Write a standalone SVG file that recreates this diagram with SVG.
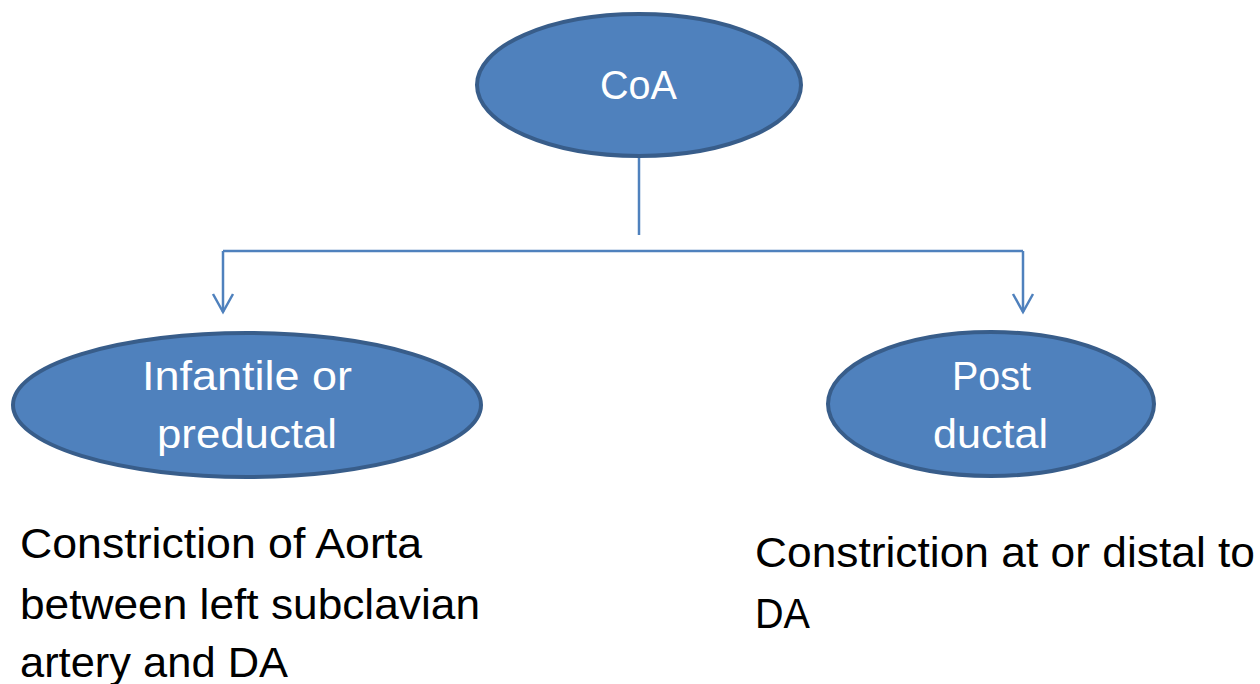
<svg xmlns="http://www.w3.org/2000/svg" width="1260" height="684" viewBox="0 0 1260 684">
<style>
.node ellipse{fill:#4F81BD;stroke:#385D8A;stroke-width:4}
.lbl{font-family:"Liberation Sans",Arial,sans-serif;fill:#FFFFFF;font-size:41px}
.txt{font-family:"Liberation Sans",Arial,sans-serif;fill:#000000;font-size:42px}
.conn path{fill:none;stroke:#4F81BD;stroke-width:2.5}
</style>
<defs>
<marker id="arr" markerUnits="userSpaceOnUse" markerWidth="24" markerHeight="26" viewBox="-20 -13 24 26" refX="0" refY="0" orient="auto">
<path d="M-18,-10 L0,0 L-18,10" fill="none" stroke="#4F81BD" stroke-width="2.5"/>
</marker>
</defs>
<rect width="1260" height="684" fill="#FFFFFF"/>
<g id="connectors" class="conn">
<path d="M639,156 V235"/>
<path d="M223,251 H1023"/>
<path d="M223,251 V312" marker-end="url(#arr)"/>
<path d="M1023,251 V312" marker-end="url(#arr)"/>
</g>
<g id="node-coa" class="node">
<ellipse cx="639" cy="85" rx="162" ry="71"/>
<text class="lbl" x="600" y="99" textLength="77" lengthAdjust="spacingAndGlyphs">CoA</text>
</g>
<g id="node-infantile" class="node">
<ellipse cx="247" cy="405" rx="234" ry="72"/>
<text class="lbl" x="142" y="390" textLength="210" lengthAdjust="spacingAndGlyphs">Infantile or</text>
<text class="lbl" x="157" y="448" textLength="180" lengthAdjust="spacingAndGlyphs">preductal</text>
</g>
<g id="node-postductal" class="node">
<ellipse cx="991" cy="404" rx="163" ry="72"/>
<text class="lbl" x="952" y="390" textLength="79" lengthAdjust="spacingAndGlyphs">Post</text>
<text class="lbl" x="933" y="448" textLength="115" lengthAdjust="spacingAndGlyphs">ductal</text>
</g>
<g id="desc-left">
<text class="txt" x="20" y="558" textLength="402" lengthAdjust="spacingAndGlyphs">Constriction of Aorta</text>
<text class="txt" x="20" y="619" textLength="460" lengthAdjust="spacingAndGlyphs">between left subclavian</text>
<text class="txt" x="20" y="677" textLength="268" lengthAdjust="spacingAndGlyphs">artery and DA</text>
</g>
<g id="desc-right">
<text class="txt" x="755" y="567" textLength="500" lengthAdjust="spacingAndGlyphs">Constriction at or distal to</text>
<text class="txt" x="755" y="628" textLength="55" lengthAdjust="spacingAndGlyphs">DA</text>
</g>
</svg>
